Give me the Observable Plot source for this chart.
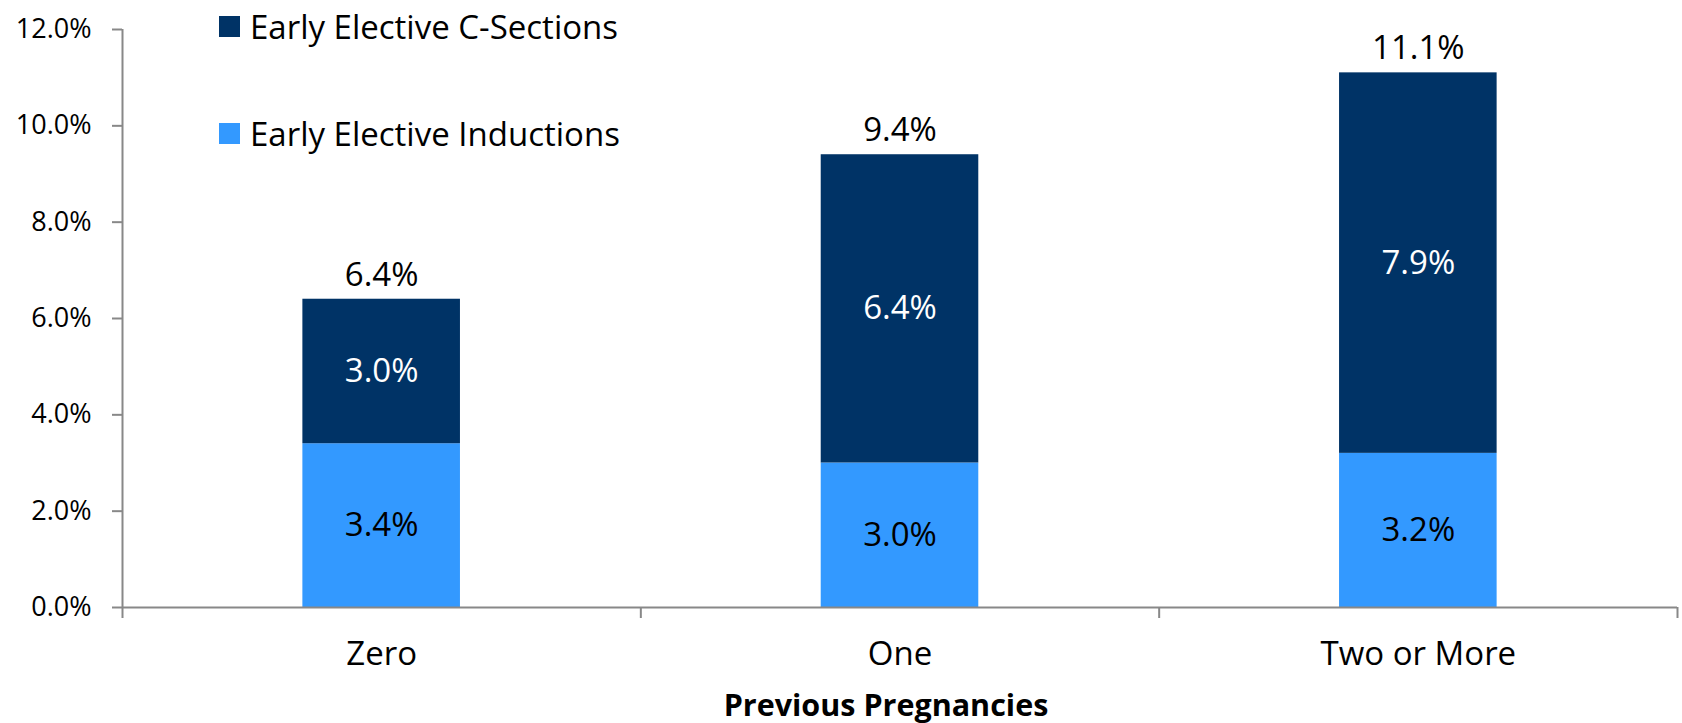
<!DOCTYPE html>
<html><head><meta charset="utf-8">
<script src="https://cdn.jsdelivr.net/npm/d3@7"></script>
<script src="https://cdn.jsdelivr.net/npm/@observablehq/plot@0.6"></script>
<style>
body{margin:0;background:#fff;font-family:"Open Sans",sans-serif;}
#wrap{position:relative;width:1682px;height:723px;}
#wrap svg{overflow:visible;}
.leg{position:absolute;left:219px;display:flex;align-items:center;font-size:33px;color:#000;height:21px;white-space:nowrap;}
.sw{width:21px;height:21px;margin-right:10px;flex:none;}
</style></head><body><div id="wrap"></div>
<script>
const categories = ["Zero", "One", "Two or More"];
const inductions = [3.4, 3.0, 3.2];
const csections = [3.0, 6.4, 7.9];
const totals = [6.4, 9.4, 11.1];
const seriesNames = ["Early Elective Inductions", "Early Elective C-Sections"];
const seriesColors = ["#3399ff", "#003366"];
const yTicks = [0, 2, 4, 6, 8, 10, 12];
const xTitle = "Previous Pregnancies";

const fmt = d => d.toFixed(1) + "%";
const half = 0.152;

const rows = [];
categories.forEach((c, i) => {
  rows.push({i, series: seriesNames[0], y1: 0, y2: inductions[i], v: inductions[i]});
  rows.push({i, series: seriesNames[1], y1: inductions[i], y2: inductions[i] + csections[i], v: csections[i]});
});
const totalRows = categories.map((c, i) => ({i, t: totals[i]}));

const chart = Plot.plot({
  width: 1682,
  height: 723,
  marginLeft: 122,
  marginRight: 5,
  marginTop: 29,
  marginBottom: 116,
  style: {fontFamily: "'Open Sans', sans-serif", background: "#fff", overflow: "visible"},
  x: {domain: [0, categories.length]},
  y: {domain: [0, 12]},
  color: {domain: seriesNames, range: seriesColors},
  marks: [
    Plot.rect(rows, {x1: d => d.i + 0.5 - half, x2: d => d.i + 0.5 + half, y1: "y1", y2: "y2", fill: "series"}),
    Plot.text(rows, {x: d => d.i + 0.5, y: d => (d.y1 + d.y2) / 2, text: d => fmt(d.v),
      fill: d => d.series === seriesNames[1] ? "#ffffff" : "#000000", fontSize: 33}),
    Plot.text(totalRows, {x: d => d.i + 0.5, y: "t", dy: -24, text: d => fmt(d.t), fill: "#000", fontSize: 33}),
    Plot.ruleX([0], {y1: 0, y2: 12, stroke: "#888", strokeWidth: 2}),
    Plot.ruleY([0], {x1: 0, x2: categories.length, stroke: "#888", strokeWidth: 2}),
    Plot.axisY({ticks: yTicks, tickFormat: fmt, tickSize: 10, tickPadding: 21, stroke: "#888", strokeWidth: 2, fill: "#000", fontSize: 27, label: null}),
    Plot.axisX({ticks: d3.range(categories.length + 1), tickSize: 11, tickFormat: () => "", stroke: "#888", strokeWidth: 2, label: null}),
    Plot.axisX({ticks: categories.map((c, i) => i + 0.5), tickSize: 0, tickPadding: 34, tickFormat: d => categories[Math.floor(d)], fill: "#000", fontSize: 33, label: null}),
    Plot.text([xTitle], {frameAnchor: "bottom", dx: -14, dy: 108, text: d => d, fontWeight: "bold", fontSize: 30.5, fill: "#000"})
  ]
});
const wrap = document.getElementById("wrap");
wrap.appendChild(chart);

// legend overlay (C-Sections on top, Inductions below)
const legendOrder = [1, 0];
const legendTops = [16, 123];
legendOrder.forEach((k, j) => {
  const div = document.createElement("div");
  div.className = "leg";
  div.style.top = legendTops[j] + "px";
  const sw = document.createElement("span");
  sw.className = "sw";
  sw.style.background = seriesColors[k];
  const tx = document.createElement("span");
  tx.textContent = seriesNames[k];
  div.appendChild(sw); div.appendChild(tx);
  wrap.appendChild(div);
});
</script></body></html>
